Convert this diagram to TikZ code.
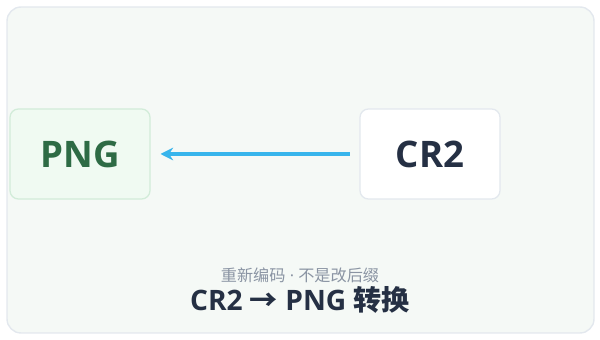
\documentclass[tikz,border=0pt]{standalone}
\usepackage{fontspec}
\setmainfont{Open Sans}
\newfontfamily\cjk{Noto Sans CJK SC}
\usetikzlibrary{positioning, arrows.meta}
\definecolor{FrameFill}{HTML}{F5F9F6}
\definecolor{FrameLine}{HTML}{E3E8EE}
\definecolor{PngFill}{HTML}{F0FAF2}
\definecolor{PngLine}{HTML}{D2ECD9}
\definecolor{PngText}{HTML}{2E6B45}
\definecolor{CrLine}{HTML}{E3E8EE}
\definecolor{DarkText}{HTML}{253044}
\definecolor{NoteText}{HTML}{8A94A3}
\definecolor{FlowColor}{HTML}{38B5EC}
\tikzset{
    fmtbox/.style={
        shape=rectangle,
        rounded corners=6pt,
        line width=0.9pt,
        minimum width=3.5cm,
        minimum height=2.25cm,
        font=\bfseries\fontsize{26}{30}\selectfont
    },
    flow/.style={
        draw=FlowColor,
        line width=2.2pt,
        -{Stealth[length=9pt, width=9pt]}
    }
}

\begin{document}
\begin{tikzpicture}[x=0.025cm, y=-0.025cm]

\useasboundingbox (0,0) rectangle (600,340);

% Frame
\draw[fill=FrameFill, draw=FrameLine, line width=1pt, rounded corners=10pt] (7,7) rectangle (594,333);

% Formats
\node[fmtbox, fill=PngFill, draw=PngLine, text=PngText] (png) at (80,154) {PNG};
\node[fmtbox, fill=white, draw=CrLine, text=DarkText] (cr2) at (430,154) {CR2};

% Conversion
\draw[flow, shorten <=7pt, shorten >=7pt] (cr2) -- (png);

% Caption
\node[text=NoteText, font=\fontsize{11.5}{13}\selectfont] (note) at (300,275) {{\cjk 重新编码} · {\cjk 不是改后缀}};
\node[text=DarkText, font=\bfseries\fontsize{20}{24}\selectfont] (title) at (300,300) {CR2 {\cjk\bfseries →} PNG {\cjk\bfseries 转换}};

\end{tikzpicture}
\end{document}
